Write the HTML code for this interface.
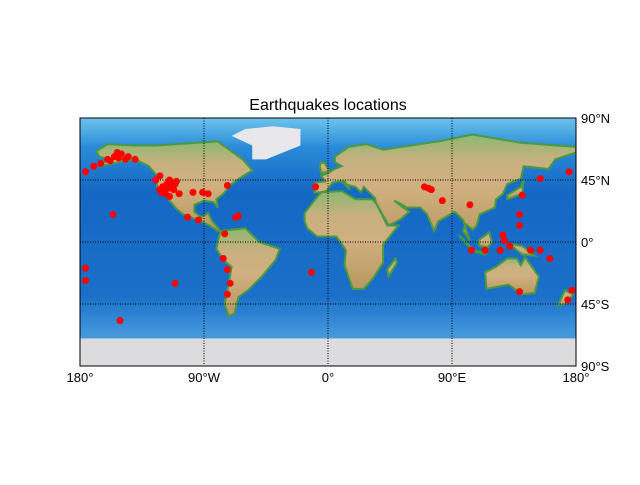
<!DOCTYPE html>
<html><head><meta charset="utf-8"><style>
body{margin:0;background:#fff;width:640px;height:480px;overflow:hidden;font-family:"Liberation Sans",sans-serif}
</style></head><body>
<svg id="chart" width="640" height="480" xmlns="http://www.w3.org/2000/svg">
<defs>
<linearGradient id="ocean" x1="0" y1="0" x2="0" y2="1">
<stop offset="0" stop-color="#6cc4ec"/><stop offset="0.12" stop-color="#2a8ad8"/><stop offset="0.3" stop-color="#1468c4"/><stop offset="0.72" stop-color="#1a70c8"/><stop offset="0.84" stop-color="#3a90d8"/><stop offset="1" stop-color="#6ab0e0"/>
</linearGradient>
<linearGradient id="land" x1="0" y1="0" x2="0" y2="1">
<stop offset="0" stop-color="#8cb870"/><stop offset="0.25" stop-color="#c8b080"/><stop offset="0.5" stop-color="#d0b080"/><stop offset="1" stop-color="#b89860"/>
</linearGradient>
<clipPath id="mapclip"><rect x="80" y="118" width="496" height="248"/></clipPath>
</defs>
<text x="328" y="110" text-anchor="middle" font-size="16">Earthquakes locations</text>
<g id="map" clip-path="url(#mapclip)">
<rect x="80" y="118" width="496" height="248" fill="url(#ocean)"/>
</g>
<rect x="80" y="118" width="496" height="248" fill="none" stroke="#000" stroke-width="1"/>
<g id="axes" font-size="13"></g>
</svg>
<script>
const quakeLon=[-160,-155,-150,-145,-140,-170,-165,-158,-152,-147,-153,-176,-125,-122,-118,-115,-120,-110,-112,-108,-117,-122,-115,-119,-113,-121,-116,-111,-156,-98,-91,-87,-73,-102,-94,-67,-65,-75,-76,-73,-71,-73,-111,-151,-176,-176,-12,-9,70,73,75,83,103,104,114,125,127,128,132,139,141,139,154,147,154,161,139,174,177,175];
const quakeLat=[60,62,64,62,60,55,57,59,61,60,65,51,45,38,35,33,40,44,38,35,42,48,45,36,41,36,39,42,20,36,36,35,41,18,16,18,19,6,-12,-20,-30,-38,-30,-57,-19,-28,-22,40,40,39,38,30,27,-6,-6,-6,5,1,-3,12,34,20,46,-6,-6,-12,-36,-42,-35,51];
const latTicks=[90,45,0,-45,-90];
const latLabels=["90°N","45°N","0°","45°S","90°S"];
const lonTicks=[-180,-90,0,90,180];
const lonLabels=["180°","90°W","0°","90°E","180°"];
const X0=80,Y0=118,W=496,H=248;
function xs(lon){return X0+(lon+180)/360*W;}
function ys(lat){return Y0+(90-lat)/180*H;}
const NS="http://www.w3.org/2000/svg";
const map=document.getElementById('map'),axes=document.getElementById('axes');
const lands={
"north-america":[[-168,66],[-160,71],[-140,70],[-125,70],[-95,72],[-80,73],[-62,60],[-55,52],[-66,45],[-70,42],[-76,35],[-81,31],[-80,25],[-83,29],[-90,30],[-97,27],[-97,22],[-92,18],[-87,21],[-84,15],[-78,8],[-80,8],[-86,12],[-92,15],[-105,20],[-110,24],[-115,30],[-117,33],[-124,40],[-124,48],[-130,55],[-140,60],[-152,58],[-165,55],[-160,60],[-166,62]],
"south-america":[[-78,8],[-60,10],[-50,0],[-35,-5],[-38,-13],[-48,-25],[-58,-35],[-65,-40],[-68,-52],[-72,-54],[-75,-45],[-72,-30],[-70,-18],[-76,-13],[-81,-5],[-80,0]],
"eurasia":[[-10,36],[-9,43],[-2,44],[-5,48],[0,50],[5,53],[10,55],[5,58],[5,62],[15,69],[28,71],[40,67],[60,70],[80,73],[105,78],[140,72],[180,69],[180,65],[165,60],[160,53],[142,55],[140,46],[130,42],[127,35],[122,31],[121,25],[110,20],[108,12],[105,9],[100,13],[98,8],[103,1],[98,16],[92,22],[80,15],[77,8],[72,20],[67,25],[57,25],[52,28],[48,30],[56,24],[59,22],[52,16],[44,12],[35,28],[34,32],[30,36],[26,40],[24,36],[20,40],[12,42],[16,38],[12,44],[8,44],[3,43],[-1,37],[-5,36]],
"africa":[[-17,15],[-17,21],[-10,30],[-5,36],[10,37],[20,31],[32,31],[35,28],[43,12],[51,12],[40,-2],[40,-15],[33,-26],[26,-34],[18,-34],[12,-17],[13,-6],[9,0],[6,4],[-8,4],[-15,10]],
"australia":[[114,-22],[122,-18],[130,-12],[137,-12],[140,-17],[143,-11],[153,-25],[150,-37],[141,-38],[131,-31],[115,-34]],
"borneo":[[109,1],[117,7],[119,0],[116,-4],[110,-3]],
"sumatra":[[95,5],[106,-6],[101,-2]],
"java":[[105,-6],[115,-8],[114,-9],[106,-7]],
"new-guinea":[[131,-1],[141,-3],[150,-10],[141,-9]],
"japan":[[130,31],[141,35],[142,45],[140,40],[130,34]],
"uk":[[-5,50],[1,51],[-2,57],[-5,58],[-6,55]],
"madagascar":[[44,-25],[50,-15],[49,-12],[43,-20]],
"new-zealand":[[172,-35],[178,-38],[172,-45],[167,-46]]};
for(const k in lands){
 const p=document.createElementNS(NS,'polygon');
 p.setAttribute('points',lands[k].map(q=>xs(q[0])+','+ys(q[1])).join(' '));
 p.setAttribute('fill','url(#land)');p.setAttribute('stroke','#4a9a40');p.setAttribute('stroke-width','2');
 
 
 map.appendChild(p);
}
const gl=document.createElementNS(NS,'polygon');
gl.setAttribute('points',[[-55,60],[-45,60],[-20,70],[-20,82],[-40,84],[-60,82],[-70,77],[-55,70]].map(q=>xs(q[0])+','+ys(q[1])).join(' '));
gl.setAttribute('fill','#e8e8ea');


map.appendChild(gl);
const an=document.createElementNS(NS,'rect');
an.setAttribute('x',X0);an.setAttribute('y',ys(-70));an.setAttribute('width',W);an.setAttribute('height',ys(-90)-ys(-70));an.setAttribute('fill','#dcdcde');


map.appendChild(an);
latTicks.forEach((t,i)=>{
 const l=document.createElementNS(NS,'line');
 l.setAttribute('x1',X0);l.setAttribute('x2',X0+W);l.setAttribute('y1',ys(t));l.setAttribute('y2',ys(t));
 l.setAttribute('stroke','#000');l.setAttribute('stroke-dasharray','1,1.5');
 
 
 map.appendChild(l);
 const tx=document.createElementNS(NS,'text');
 tx.setAttribute('x',X0+W+5);tx.setAttribute('y',ys(t)+5);tx.textContent=latLabels[i];
 
 
 axes.appendChild(tx);
});
lonTicks.forEach((t,i)=>{
 const l=document.createElementNS(NS,'line');
 l.setAttribute('y1',Y0);l.setAttribute('y2',Y0+H);l.setAttribute('x1',xs(t));l.setAttribute('x2',xs(t));
 l.setAttribute('stroke','#000');l.setAttribute('stroke-dasharray','1,1.5');
 
 
 map.appendChild(l);
 const tx=document.createElementNS(NS,'text');
 tx.setAttribute('x',xs(t));tx.setAttribute('y',Y0+H+16);tx.setAttribute('text-anchor','middle');tx.textContent=lonLabels[i];
 
 
 axes.appendChild(tx);
});
quakeLon.forEach((lon,i)=>{
 const c=document.createElementNS(NS,'circle');
 c.setAttribute('cx',xs(lon));c.setAttribute('cy',ys(quakeLat[i]));c.setAttribute('r',3.5);c.setAttribute('fill','#ff0000');
 
 
 map.appendChild(c);
});
</script>
</body></html>
